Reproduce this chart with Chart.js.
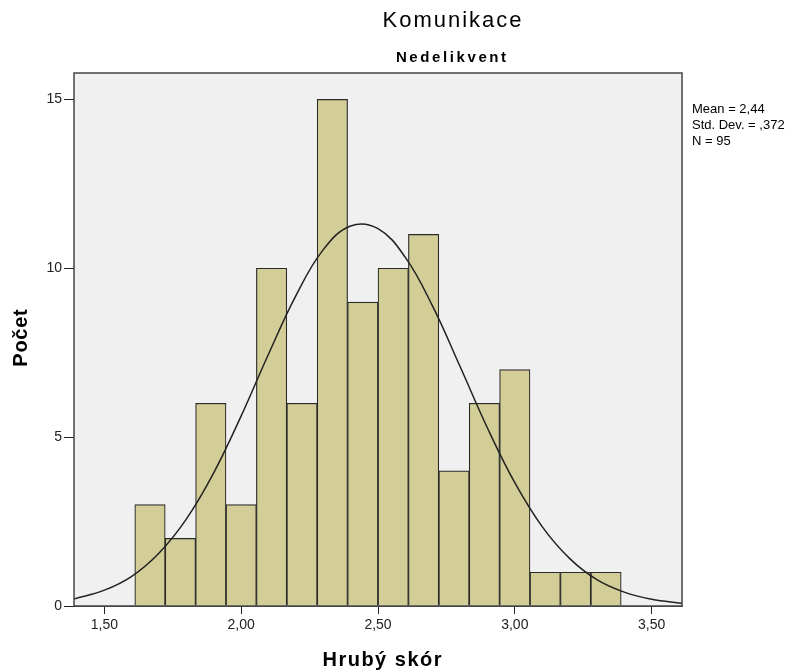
<!DOCTYPE html>
<html>
<head>
<meta charset="utf-8">
<script src="https://cdn.jsdelivr.net/npm/chart.js@4.4.0/dist/chart.umd.min.js"></script>
<style>
  html, body { margin: 0; padding: 0; background: #fff; }
  #wrap { width: 806px; height: 671px; position: relative; }
</style>
</head>
<body>
<div id="wrap"><canvas id="chart" width="806" height="671"></canvas></div>
<script>
// bin centres (k/9) and counts
const binCenters = [1.6667, 1.7778, 1.8889, 2.0, 2.1111, 2.2222, 2.3333, 2.4444,
                    2.5556, 2.6667, 2.7778, 2.8889, 3.0, 3.1111, 3.2222, 3.3333];
const counts = [3, 2, 6, 3, 10, 6, 15, 9, 10, 11, 4, 6, 7, 1, 1, 1];

// normal curve
const curveX = [1.389, 1.5, 1.6, 1.7, 1.8, 1.9, 2.0, 2.1, 2.2, 2.3, 2.4, 2.5,
                2.6, 2.7, 2.8, 2.9, 3.0, 3.1, 3.2, 3.3, 3.4, 3.5, 3.611];
const curveY = [0.21, 0.47, 0.88, 1.57, 2.58, 3.95, 5.63, 7.46, 9.19, 10.55, 11.25, 11.17,
                10.32, 8.87, 7.09, 5.27, 3.65, 2.35, 1.41, 0.78, 0.41, 0.20, 0.08];

const xTicks = [1.5, 2.0, 2.5, 3.0, 3.5];
const yTicks = [0, 5, 10, 15];
const xRange = [1.3889, 3.6111];
const yMax = 15.78;

const statsLines = ['Mean = 2,44', 'Std. Dev. = ,372', 'N = 95'];

const FONT = '"Liberation Sans", Arial, sans-serif';

function spaced(ctx, text, x, y, spacing) {
    ctx.letterSpacing = spacing + 'px';
    ctx.fillText(text, x + spacing / 2, y);
    ctx.letterSpacing = '0px';
}

const frame = {
    id: 'frame',
    beforeDatasetsDraw(chart) {
        const { ctx, chartArea: a } = chart;
        ctx.save();
        ctx.fillStyle = '#f0f0f0';
        ctx.fillRect(a.left, a.top, a.right - a.left, a.bottom - a.top);
        ctx.restore();
    },
    afterDraw(chart) {
        const { ctx, chartArea: a } = chart;
        ctx.save();
        ctx.strokeStyle = '#444';
        ctx.lineWidth = 1.5;
        ctx.strokeRect(a.left, a.top, a.right - a.left, a.bottom - a.top);

        ctx.fillStyle = '#000';
        ctx.textAlign = 'center';
        ctx.textBaseline = 'middle';
        ctx.font = '22px ' + FONT;
        spaced(ctx, 'Komunikace', 452, 21, 2);
        ctx.font = 'bold 15px ' + FONT;
        spaced(ctx, 'Nedelikvent', 451, 58, 2.6);

        ctx.font = 'bold 20px ' + FONT;
        spaced(ctx, 'Hrubý skór', 382, 660, 1.5);
        ctx.save();
        ctx.translate(21, 338);
        ctx.rotate(-Math.PI / 2);
        spaced(ctx, 'Počet', 0, 0, 0.7);
        ctx.restore();

        ctx.font = '13px ' + FONT;
        ctx.textAlign = 'left';
        statsLines.forEach((t, i) => ctx.fillText(t, 692, 109 + i * 16));
        ctx.restore();
    }
};

new Chart(document.getElementById('chart'), {
    type: 'bar',
    data: {
        datasets: [
            {
                type: 'line',
                data: curveX.map((x, i) => ({ x: x, y: curveY[i] })),
                borderColor: '#222',
                borderWidth: 1.5,
                pointRadius: 0,
                tension: 0.4,
                fill: false,
                order: 0
            },
            {
                data: binCenters.map((x, i) => ({ x: x, y: counts[i] })),
                backgroundColor: '#d3ce97',
                borderColor: '#2a2a2a',
                borderWidth: 1.2,
                barPercentage: 1,
                categoryPercentage: 1,
                order: 1
            }
        ]
    },
    options: {
        responsive: false,
        animation: false,
        layout: { padding: { top: 73, right: 124, left: 0, bottom: 0 } },
        plugins: {
            legend: { display: false },
            tooltip: { enabled: false }
        },
        scales: {
            x: {
                type: 'linear',
                min: xRange[0],
                max: xRange[1],
                offset: false,
                afterFit: s => { s.height = 65; },
                afterBuildTicks: s => { s.ticks = xTicks.map(v => ({ value: v })); },
                grid: { offset: false, drawOnChartArea: false, tickLength: 8, color: '#222' },
                border: { color: '#444', width: 1 },
                ticks: {
                    color: '#222',
                    padding: 3,
                    maxRotation: 0,
                    font: { family: FONT, size: 14 },
                    callback: v => v.toFixed(2).replace('.', ',')
                }
            },
            y: {
                min: 0,
                max: yMax,
                afterFit: s => { s.width = 74; },
                afterBuildTicks: s => { s.ticks = yTicks.map(v => ({ value: v })); },
                grid: { drawOnChartArea: false, tickLength: 10, color: '#222' },
                border: { color: '#444', width: 1 },
                ticks: {
                    color: '#222',
                    padding: 2,
                    font: { family: FONT, size: 14 }
                }
            }
        }
    },
    plugins: [frame]
});
</script>
</body>
</html>
